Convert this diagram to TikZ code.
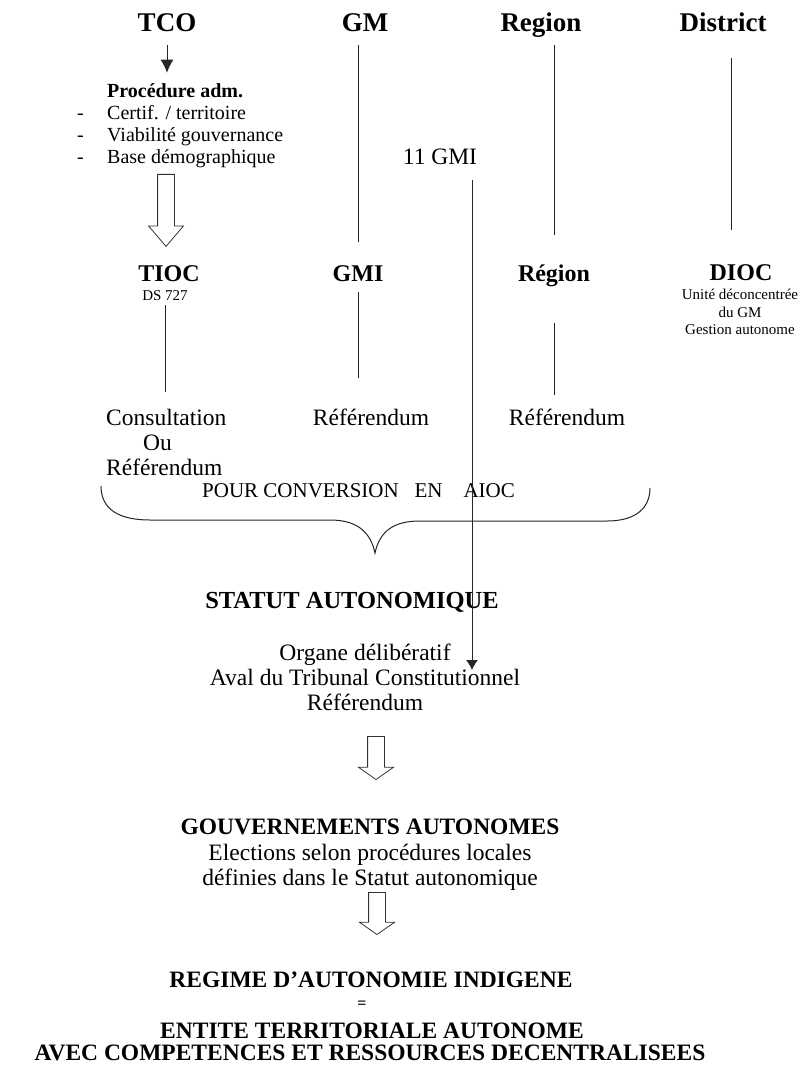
\documentclass[tikz,border=0pt]{standalone}
\usepackage{fontspec}
\setmainfont{Liberation Serif}
\usepackage{tikz}
\usetikzlibrary{calc, arrows, arrows.meta, shapes.arrows}

\begin{document}
\begin{tikzpicture}[x=1pt, y=-1pt,
    every node/.style={inner sep=0pt},
    head/.style={font=\bfseries\fontsize{27}{30}\selectfont, text height=18pt, text depth=0pt, inner ysep=14pt},
    sub/.style={font=\bfseries\fontsize{24}{26}\selectfont, text height=16pt, text depth=0pt},
    txt/.style={font=\fontsize{23.5}{25}\selectfont, align=center},
    link/.style={line width=1pt, black!85},
    fat/.style={draw, single arrow, rotate=-90, anchor=tip, line width=0.8pt, black!80,
      inner xsep=0pt, inner ysep=8pt, single arrow head extend=9pt}]
      \useasboundingbox (0,0) rectangle (810,1066);
      % heads of columns
      \node[head] (tco) at (167,22) {TCO};
      \node[head] (gm) at (365,22) {GM};
      \node[head] (region) at (541,22) {Region};
      \node[head] (district) at (723,22) {District};
      \node[anchor=west, align=left, font=\fontsize{20}{22}\selectfont] (proc) at (77,126)
        {\hspace*{30pt}\textbf{Procédure adm.}\\
         \makebox[30pt][l]{-}Certif. / territoire\\
         \makebox[30pt][l]{-}Viabilité gouvernance\\
         \makebox[30pt][l]{-}Base démographique};
      \node[txt] (gmi11) at (440,157) {11 GMI};
      \node[fat, minimum height=72pt, shape border uses incircle=false, single arrow tip angle=81] (arr1) at (166,247) {};
      % second row
      \node[sub] (tioc) at (169,273) {TIOC};
      \node[font=\fontsize{15}{17}\selectfont, text height=10pt, text depth=0pt] (ds) at (165,295) {DS 727};
      \node[sub] (gmi) at (358,273) {GMI};
      \node[sub] (regn) at (554,273) {Région};
      \node[sub] (dioc) at (741,272) {DIOC};
      \node[align=center, font=\fontsize{15}{17.5}\selectfont] (diocsub) at (740,312)
        {Unité déconcentrée\\du GM\\Gestion autonome};
      % consultations
      \node[anchor=west, align=left, font=\fontsize{23.5}{25}\selectfont] (cons) at (106,442)
        {Consultation\\\hspace*{37pt}Ou\\Référendum};
      \node[txt] (refgm) at (371,417) {Référendum};
      \node[txt] (refrg) at (567,417) {Référendum};
      \node[anchor=west, font=\fontsize{21}{23}\selectfont] (pour) at (202,491)
        {POUR CONVERSION~~ EN~~~ AIOC};
      % statut
      \node[txt, font=\bfseries\fontsize{24.5}{26}\selectfont] (statut) at (352,602) {STATUT AUTONOMIQUE};
      \node[txt] (organe) at (365,677)
        {Organe délibératif\\Aval du Tribunal Constitutionnel\\Référendum};
      \coordinate (stt) at (472,670);
      \node[fat, minimum height=43pt, single arrow tip angle=110] (arr2) at (376,780) {};
      \node[txt, font=\fontsize{23.5}{25.5}\selectfont] (gouv) at (370,855)
        {\textbf{GOUVERNEMENTS AUTONOMES}\\Elections selon procédures locales\\définies dans le Statut autonomique};
      \node[fat, minimum height=42pt, single arrow tip angle=110] (arr3) at (377,935) {};
      \node[txt, font=\bfseries\fontsize{23.5}{25}\selectfont] (regime) at (371,980) {REGIME D’AUTONOMIE INDIGENE};
      \node[txt, font=\bfseries\fontsize{16}{18}\selectfont] (eq) at (362,1005) {=};
      \node[txt, font=\bfseries\fontsize{23.5}{25}\selectfont] (entite) at (372,1031) {ENTITE TERRITORIALE AUTONOME};
      \node[txt, font=\bfseries\fontsize{23.5}{25}\selectfont] (avec) at (370,1053) {AVEC COMPETENCES ET RESSOURCES DECENTRALISEES};
      % connectors
      \draw[link, -{Latex[length=13pt,width=13pt]}, shorten >=11pt] (tco) -- (tco |- proc.north);
      \draw[link, shorten >=23pt] (gmi |- gm.south) -- (gmi.north);
      \draw[link, shorten >=30pt] (regn |- region.south) -- (regn.north);
      \draw[link, shorten <=13pt, shorten >=34pt] ([xshift=8pt]district.south) -- ([xshift=-10pt]dioc.north);
      \draw[link, shorten <=5pt, shorten >=17pt] (ds.south) -- (ds.south |- cons.north);
      \draw[link, shorten <=11pt, shorten >=30pt] (gmi.south) -- (gmi.south |- refgm.north);
      \draw[link, shorten <=42pt, shorten >=13pt] (regn.south) -- (regn.south |- refrg.north);
      \draw[link, -{Latex[length=10pt,width=12pt]}, shorten <=15pt] (gmi11.south -| stt) -- (stt);
      % brace
      \draw[link] (101,486) .. controls (101,510) and (120,520) .. (150,520) -- (330,520)
        .. controls (355,520) and (370,530) .. (375,553)
        .. controls (380,530) and (395,521) .. (420,521) -- (607,521)
        .. controls (637,521) and (650,507) .. (650,488);
    \end{tikzpicture}
\end{document}
